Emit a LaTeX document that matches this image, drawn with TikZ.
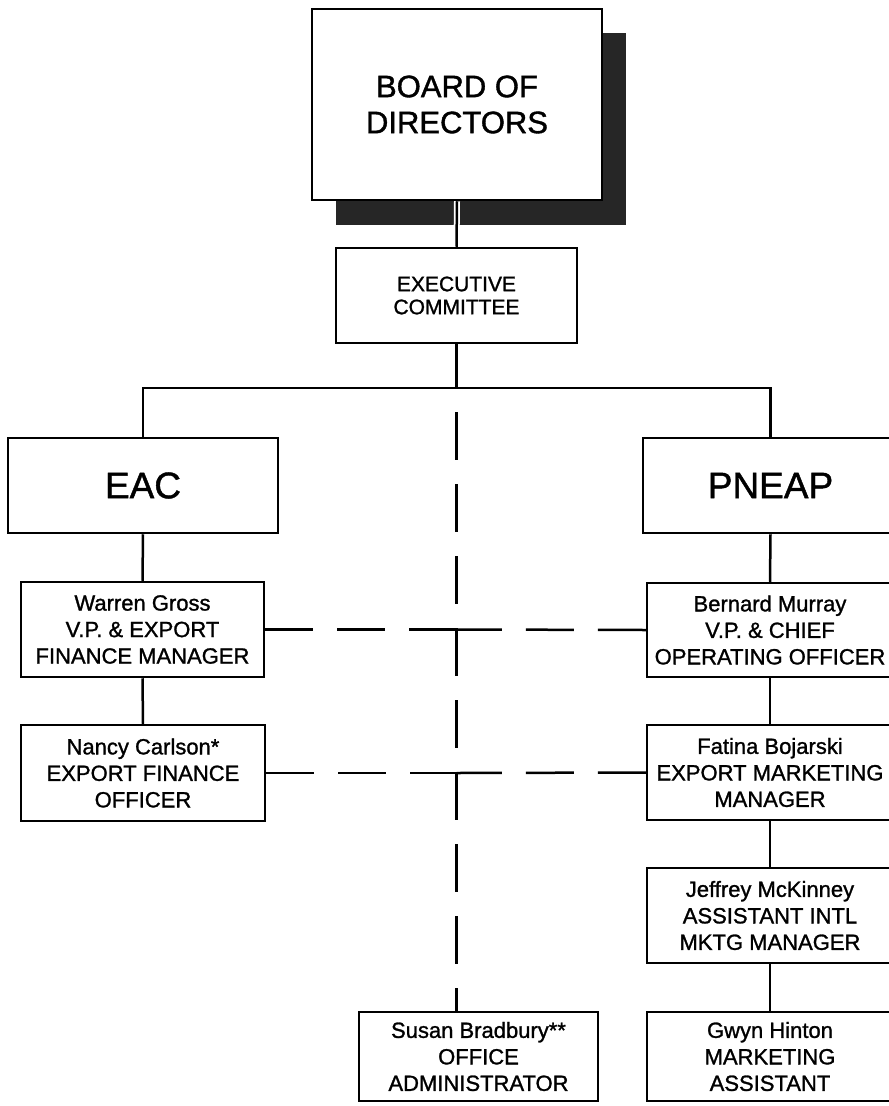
\documentclass[tikz,border=0pt]{standalone}
\usepackage{fontspec}
\setmainfont{Liberation Sans}[FakeBold=1.2]
\begin{document}
\begin{tikzpicture}[x=1pt,y=-1pt,
  box/.style={draw=black, fill=white, line width=2.5pt, inner sep=0pt, align=center},
  bigtxt/.style={font=\fontsize{37}{40}\selectfont},
  boardtxt/.style={font=\fontsize{31}{36}\selectfont},
  exectxt/.style={font=\fontsize{21}{23}\selectfont},
  nametxt/.style={font=\fontsize{22}{26.5}\selectfont},
  conn/.style={line width=2.5pt},
  dashconn/.style={line width=2.5pt, dash pattern=on 48pt off 24pt}]
\useasboundingbox (0,0) rectangle (889,1106);
\clip (0,0) rectangle (889,1106);
% shadow of board
\fill[black!85] (336,33) rectangle (626,225);
\node[box, boardtxt, minimum width=290pt, minimum height=191pt] (board) at (457,104.5) {BOARD OF\\DIRECTORS};
\node[box, exectxt, minimum width=241pt, minimum height=95pt] (exec) at (456.5,295.5) {EXECUTIVE\\COMMITTEE};
\node[box, bigtxt, minimum width=270pt, minimum height=95pt] (eac) at (143,485.5) {EAC};
\node[box, bigtxt, minimum width=255pt, minimum height=95pt] (pneap) at (770.5,485.5) {PNEAP};
\node[box, nametxt, minimum width=243pt, minimum height=95pt] (warren) at (142.5,629.5) {Warren Gross\\V.P. \& EXPORT\\FINANCE MANAGER};
\node[box, nametxt, minimum width=246pt, minimum height=94pt] (bernard) at (770,630) {Bernard Murray\\V.P. \& CHIEF\\OPERATING OFFICER};
\node[box, nametxt, minimum width=244pt, minimum height=96pt] (nancy) at (143,773) {Nancy Carlson*\\EXPORT FINANCE\\OFFICER};
\node[box, nametxt, minimum width=246pt, minimum height=95pt] (fatina) at (770,772.5) {Fatina Bojarski\\EXPORT MARKETING\\MANAGER};
\node[box, nametxt, minimum width=246pt, minimum height=95pt] (jeffrey) at (770,915.5) {Jeffrey McKinney\\ASSISTANT INTL\\MKTG MANAGER};
\node[box, nametxt, minimum width=239pt, minimum height=89pt] (susan) at (478.5,1056.5) {Susan Bradbury**\\OFFICE\\ADMINISTRATOR};
\node[box, nametxt, minimum width=246pt, minimum height=89pt] (gwyn) at (770,1056.5) {Gwyn Hinton\\MARKETING\\ASSISTANT};
% connectors
\coordinate (hub) at (456.5,388);
\draw[white, line width=6pt] (board.south) -- (exec.north);
\draw[conn] (board.south) -- (exec.north);
\draw[conn] (exec.south) -- (hub);
\draw[conn] (eac.north) |- (hub) -| (pneap.north);
\draw[conn] (eac.south) -- (warren.north);
\draw[conn] (warren.south) -- (nancy.north);
\draw[conn] (pneap.south) -- (bernard.north);
\draw[conn] (bernard.south) -- (fatina.north);
\draw[conn] (fatina.south) -- (jeffrey.north);
\draw[conn] (jeffrey.south) -- (gwyn.north);
\draw[dashconn, dash phase=48pt] (hub) -- (hub |- susan.north);
\coordinate (m1) at (hub |- warren.east);
\coordinate (m2) at (hub |- nancy.east);
\draw[dashconn] (warren.east) -- (m1);
\draw[dashconn] (bernard.west) -- (m1);
\draw[dashconn] (nancy.east) -- (m2);
\draw[dashconn] (fatina.west) -- (m2);
\end{tikzpicture}
\end{document}
